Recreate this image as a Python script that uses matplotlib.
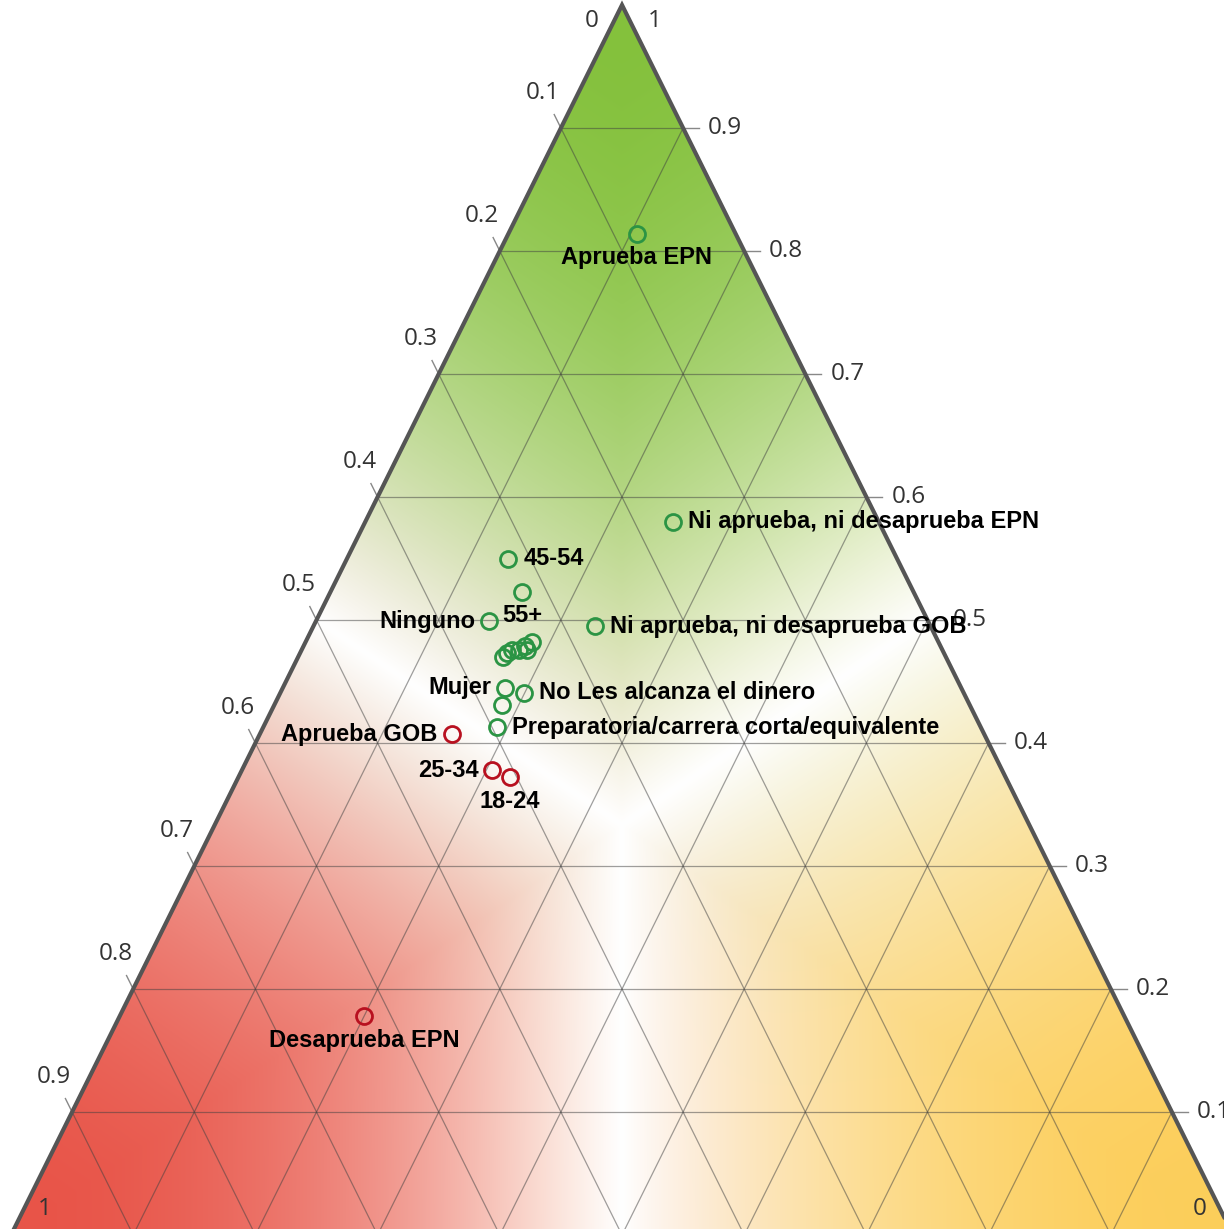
import matplotlib.pyplot as plt
import numpy as np
from matplotlib.patches import Polygon

DPI = 100
W_PX, H_PX = 1224, 1229

# Shares (top = aprueba, bottom-left = desaprueba,
# bottom-right = ni aprueba ni desaprueba).
names = [
    "Aprueba EPN", "Ni aprueba, ni desaprueba EPN", "45-54", "55+", "Ninguno",
    "Ni aprueba, ni desaprueba GOB", "", "", "", "", "", "", "",
    "Mujer", "No Les alcanza el dinero", "", "Preparatoria/carrera corta/equivalente",
    "Aprueba GOB", "25-34", "18-24", "Desaprueba EPN",
]
aprueba = [0.814, 0.580, 0.550, 0.523, 0.499, 0.495, 0.482, 0.479, 0.476, 0.476,
           0.476, 0.473, 0.470, 0.445, 0.441, 0.431, 0.413, 0.407, 0.378, 0.372, 0.178]
desaprueba = [0.081, 0.168, 0.318, 0.320, 0.359, 0.275, 0.333, 0.340, 0.340, 0.346,
              0.352, 0.358, 0.362, 0.373, 0.360, 0.383, 0.396, 0.436, 0.417, 0.406, 0.622]
ni = [0.105, 0.252, 0.132, 0.157, 0.142, 0.230, 0.185, 0.181, 0.184, 0.178,
      0.172, 0.169, 0.168, 0.182, 0.199, 0.186, 0.191, 0.157, 0.205, 0.222, 0.200]

ticks = [0.1, 0.2, 0.3, 0.4, 0.5, 0.6, 0.7, 0.8, 0.9]

# where each label sits relative to its point
label_side = {
    "Aprueba EPN": "below", "55+": "below", "18-24": "below", "Desaprueba EPN": "below",
    "Ninguno": "left", "Mujer": "left", "Aprueba GOB": "left", "25-34": "left",
}

GREEN = "#2b9444"
RED = "#b8101f"
corner_cols = np.array([[132, 193, 60], [232, 84, 72], [252, 206, 90]]) / 255.0


def to_xy(t, l, r):
    t = np.asarray(t, float)
    r = np.asarray(r, float)
    return r + t / 2.0, t


fig = plt.figure(figsize=(W_PX / DPI, H_PX / DPI), dpi=DPI)
# triangle: apex at (622, 5), base from x=11 to 1233 at y=1235 (pixels from top)
ax_w, ax_h = 1222, 1230
ax = fig.add_axes([11 / W_PX, (H_PX - 1235) / H_PX, ax_w / W_PX, ax_h / H_PX])
ax.set_xlim(0, 1)
ax.set_ylim(0, 1)
ax.axis("off")
px_x, px_y = 1.0 / ax_w, 1.0 / ax_h
pt = 72.0 / DPI  # points per pixel

verts = [(0, 0), (1, 0), (0.5, 1)]
tri = Polygon(verts, closed=True, transform=ax.transData)

# background: dominant share colour fading to white where shares are even
n = 700
X, Y = np.meshgrid(np.linspace(0, 1, n), np.linspace(0, 1, n))
T = Y
R = X - Y / 2
L = 1 - T - R
comps = np.stack([T, L, R], -1)
srt = np.sort(comps, -1)
gap = np.clip(srt[..., 2] - srt[..., 1], 0, 1)
d = 1 - (1 - gap) ** 2.0
w = np.exp(comps * 9.0)
w /= w.sum(-1, keepdims=True)
mix = w @ corner_cols
img = 1 - d[..., None] * (1 - mix)
im = ax.imshow(img, extent=[0, 1, 0, 1], origin="lower", interpolation="bilinear",
               aspect="auto", zorder=0)
im.set_clip_path(tri)

# grid
gcol = (0.25, 0.25, 0.25, 0.5)
for k in ticks:
    ax.plot([k / 2, 1 - k / 2], [k, k], color=gcol, lw=0.9, zorder=1)
    ax.plot([1 - k, (1 - k) / 2], [0, 1 - k], color=gcol, lw=0.9, zorder=1)
    ax.plot([k, k + (1 - k) / 2], [0, 1 - k], color=gcol, lw=0.9, zorder=1)

ax.add_patch(Polygon(verts, closed=True, fill=False, edgecolor="#555555", lw=3.0,
                     joinstyle="miter", zorder=3, clip_on=False))

tick_font = dict(family=["Open Sans", "DejaVu Sans"], fontsize=17.5, color="#333333")

# right axis: aprueba, horizontal ticks
for k in ticks:
    x0, y0 = 1 - k / 2, k
    ax.plot([x0, x0 + 16 * px_x], [y0, y0], color="#888888", lw=1.0, clip_on=False, zorder=2)
    ax.text(x0 + 25 * px_x, y0, f"{k:.1f}", ha="left", va="center", **tick_font)

# left axis: desaprueba, ticks along the constant-share lines
ux, uy = -611.0, 1230.0
nrm = np.hypot(ux, uy)
ux, uy = ux / nrm, uy / nrm
for k in ticks:
    x0, y0 = (1 - k) / 2, 1 - k
    ax.plot([x0, x0 + 15 * ux * px_x], [y0, y0 + 15 * uy * px_y], color="#888888",
            lw=1.0, clip_on=False, zorder=2)
    ax.text(x0 + 40 * ux * px_x, y0 + 39 * uy * px_y, f"{k:.1f}", ha="center",
            va="center", **tick_font)

# corner values
for txt, xy, off in [("0", (0.5, 1), (-30, -16)), ("1", (0.5, 1), (33, -16)),
                     ("1", (0, 0), (34, 26)), ("0", (1, 0), (-33, 26))]:
    ax.annotate(txt, xy, xytext=(off[0] * pt, off[1] * pt), textcoords="offset points",
                ha="center", va="center", annotation_clip=False, **tick_font)

# points
px, py = to_xy(aprueba, desaprueba, ni)
for i in range(len(names)):
    col = GREEN if aprueba[i] > desaprueba[i] else RED
    ax.plot(px[i], py[i], "o", ms=11.5, mfc="none", mec=col, mew=2.0, zorder=4)

lab_font = dict(family=["Liberation Sans", "DejaVu Sans"], fontsize=17,
                fontweight="bold", color="black")
for i, name in enumerate(names):
    if not name:
        continue
    side = label_side.get(name, "right")
    if side == "below":
        off, ha, va = (0, -24), "center", "center"
    elif side == "left":
        off, ha, va = (-14, 0), "right", "center"
    else:
        off, ha, va = (15, 0), "left", "center"
    ax.annotate(name, (px[i], py[i]), xytext=(off[0] * pt, off[1] * pt),
                textcoords="offset points", ha=ha, va=va, zorder=5, **lab_font)

fig.savefig("out.png", dpi=DPI)
